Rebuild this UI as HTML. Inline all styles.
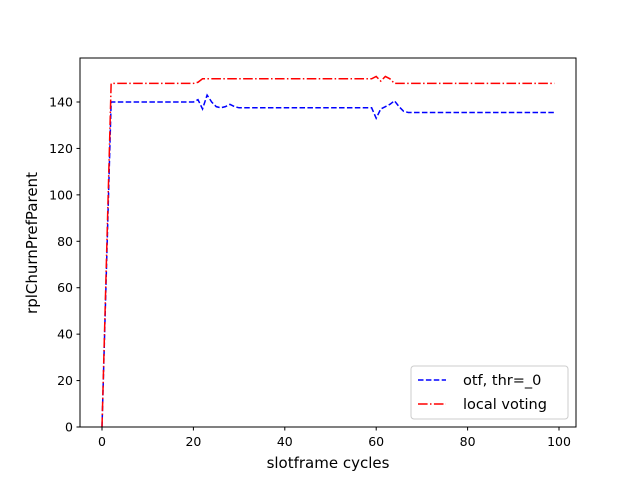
<!DOCTYPE html>
<html><head><meta charset="utf-8"><style>
body{margin:0;background:#fff}
svg text{font-family:"DejaVu Sans","Liberation Sans",sans-serif;fill:#000}
</style></head><body>
<svg id="chart" width="640" height="480" xmlns="http://www.w3.org/2000/svg"></svg>
<script>
const xTicks=[0,20,40,60,80,100];
const yTicks=[0,20,40,60,80,100,120,140];
const blueVals=[0,70,140,140,140,140,140,140,140,140,140,140,140,140,140,140,140,140,140,140,140,141,137,143,140,138,137.5,138,139,138,
137.5,137.5,137.5,137.5,137.5,137.5,137.5,137.5,137.5,137.5,137.5,137.5,137.5,137.5,137.5,137.5,137.5,137.5,137.5,137.5,137.5,137.5,137.5,137.5,137.5,137.5,137.5,137.5,137.5,137.5,
133,137,138,139,140.5,138,136,135.5,135.5,135.5,135.5,135.5,135.5,135.5,135.5,135.5,135.5,135.5,135.5,135.5,135.5,135.5,135.5,135.5,135.5,135.5,135.5,135.5,135.5,135.5,135.5,135.5,135.5,135.5,135.5,135.5,135.5,135.5,135.5,135.5];
const redVals=[0,74,148,148,148,148,148,148,148,148,148,148,148,148,148,148,148,148,148,148,148,148.5,150,150,150,150,150,150,150,150,
150,150,150,150,150,150,150,150,150,150,150,150,150,150,150,150,150,150,150,150,150,150,150,150,150,150,150,150,150,150,
151,149,151,150,148,148,148,148,148,148,148,148,148,148,148,148,148,148,148,148,148,148,148,148,148,148,148,148,148,148,148,148,148,148,148,148,148,148,148,148];
const NS="http://www.w3.org/2000/svg";
const svg=document.getElementById('chart');
const L=80,R=576,T=58,B=427;
const xs=v=>102+v*4.57;
const ys=v=>427-v*2.3214;
function mk(t,a){const e=document.createElementNS(NS,t);for(const k in a)e.setAttribute(k,a[k]);svg.appendChild(e);return e;}
function pts(vals){return vals.map((v,i)=>xs(i)+','+ys(v)).join(' ');}
let p=mk('polyline',{points:pts(blueVals),fill:'none',stroke:'#0000ff','stroke-width':1.5,'stroke-dasharray':'5.5,2.4'});


p=mk('polyline',{points:pts(redVals),fill:'none',stroke:'#ff0000','stroke-width':1.5,'stroke-dasharray':'9.6,2.4,1.5,2.4'});


let f=mk('rect',{x:L,y:T,width:R-L,height:B-T,fill:'none',stroke:'#000','stroke-width':1});


xTicks.forEach(v=>{const x=xs(v);mk('line',{x1:x,x2:x,y1:B,y2:B+3.5,stroke:'#000'});
const t=mk('text',{x:x,y:B+19,'text-anchor':'middle','font-size':12.5});t.textContent=v;

});
yTicks.forEach(v=>{const y=ys(v);mk('line',{x1:L,x2:L-3.5,y1:y,y2:y,stroke:'#000'});
const t=mk('text',{x:L-7,y:y+4.5,'text-anchor':'end','font-size':12.5});t.textContent=v;

});
let t=mk('text',{x:328,y:468,'text-anchor':'middle','font-size':15});t.textContent='slotframe cycles';


t=mk('text',{x:37,y:243,'text-anchor':'middle','font-size':15,transform:'rotate(-90 37 243)'});t.textContent='rplChurnPrefParent';


let g=mk('rect',{x:411,y:366,width:157,height:53,rx:3,fill:'#fff','fill-opacity':0.8,stroke:'#ccc'});


mk('line',{x1:418,x2:446,y1:380,y2:380,stroke:'#0000ff','stroke-width':1.5,'stroke-dasharray':'5.5,2.4'});
mk('line',{x1:418,x2:446,y1:404,y2:404,stroke:'#ff0000','stroke-width':1.5,'stroke-dasharray':'9.6,2.4,1.5,2.4'});
t=mk('text',{x:463,y:385,'font-size':14.5});t.textContent='otf, thr=_0';


t=mk('text',{x:463,y:409,'font-size':14.5});t.textContent='local voting';


</script>
</body></html>
